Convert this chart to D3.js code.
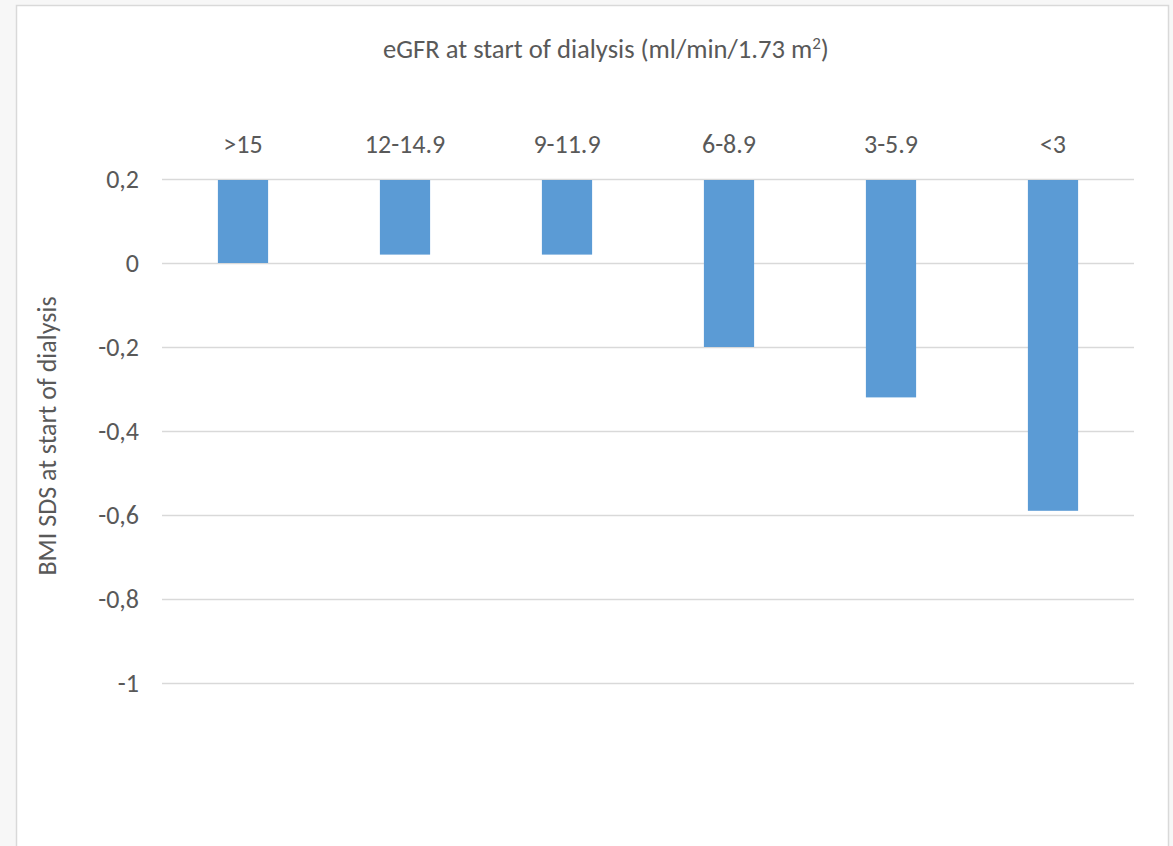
<!DOCTYPE html>
<html>
<head>
<meta charset="utf-8">
<script src="https://cdn.jsdelivr.net/npm/d3@7"></script>
<style>
  html, body { margin: 0; padding: 0; background: #f7f7f7; }
  svg { display: block; }
  text { font-family: Carlito, Lato, "Open Sans", sans-serif; fill: #595959; }
</style>
</head>
<body>
<script>
// eGFR groups at dialysis start and the mean BMI SDS for each group
const categories = [">15", "12-14.9", "9-11.9", "6-8.9", "3-5.9", "<3"];
const bmiSds = [0, 0.02, 0.02, -0.2, -0.32, -0.59];
const yTicks = [0.2, 0, -0.2, -0.4, -0.6, -0.8, -1];

const W = 1173, H = 846;
const FS = 26;
const svg = d3.select("body").append("svg").attr("width", W).attr("height", H);

// chart area frame
svg.append("rect")
  .attr("x", 16.5).attr("y", 5.5)
  .attr("width", 1152).attr("height", H)
  .attr("fill", "#ffffff").attr("stroke", "#d9d9d9").attr("stroke-width", 1.5);

const x = d3.scaleBand().domain(categories).range([162, 1134]).paddingInner(0.69).paddingOuter(0.345);
const y = d3.scaleLinear().domain([-1, 0.2]).range([683, 179]);

// horizontal gridlines
svg.append("g").selectAll("line").data(yTicks).join("line")
  .attr("x1", 162).attr("x2", 1134)
  .attr("y1", d => y(d) + 0.5).attr("y2", d => y(d) + 0.5)
  .attr("stroke", "#d9d9d9").attr("stroke-width", 1.5);

// y tick labels with decimal comma and plain hyphen minus
const fmtTick = d => d === 0 ? "0" : (Number.isInteger(d) ? String(d) : String(d).replace(".", ","));
svg.append("g").selectAll("text").data(yTicks).join("text")
  .attr("x", 139).attr("y", d => y(d)).attr("dy", "0.35em")
  .attr("text-anchor", "end").attr("font-size", FS)
  .text(fmtTick);

// bars hang from the horizontal axis at the top of the scale
svg.append("g").selectAll("rect").data(bmiSds).join("rect")
  .attr("x", (d, i) => x(categories[i]))
  .attr("width", x.bandwidth())
  .attr("y", y(0.2) + 1)
  .attr("height", d => y(d) - y(0.2) - 1)
  .attr("fill", "#5b9bd5");

// category labels above the axis
svg.append("g").selectAll("text").data(categories).join("text")
  .attr("x", d => x(d) + x.bandwidth() / 2).attr("y", 153)
  .attr("text-anchor", "middle").attr("font-size", FS)
  .text(d => d);

// axis title on top
const title = svg.append("text").attr("x", 606).attr("y", 58)
  .attr("text-anchor", "middle").attr("font-size", 26.6);
title.append("tspan").text("eGFR at start of dialysis (ml/min/1.73 m");
title.append("tspan").attr("dy", -9).attr("font-size", 17).text("2");
title.append("tspan").attr("dy", 9).text(")");

// y-axis title
svg.append("text")
  .attr("transform", "translate(56,436) rotate(-90)")
  .attr("text-anchor", "middle").attr("font-size", FS)
  .text("BMI SDS at start of dialysis");
</script>
</body>
</html>
